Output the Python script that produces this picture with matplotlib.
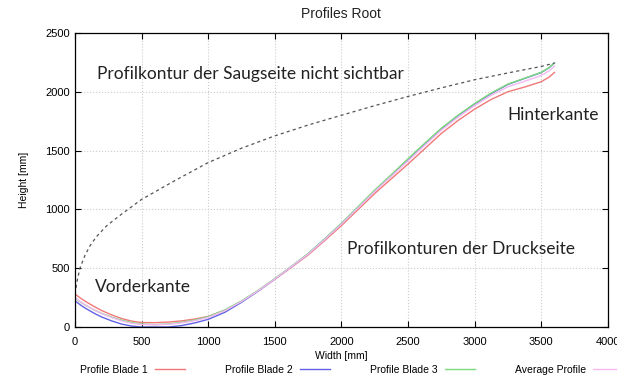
import matplotlib
matplotlib.use('Agg')
import matplotlib.pyplot as plt

# pressure side (visible) contour, three blades + average
x_press = [0, 50, 100, 150, 200, 275, 350, 425, 500, 600, 700, 800, 900, 1000,
           1125, 1250, 1375, 1500, 1625, 1750, 1875, 2000, 2125, 2250, 2375,
           2500, 2625, 2750, 2875, 3000, 3125, 3250, 3375, 3500, 3560, 3600]
blade_1 = [280, 238, 203, 170, 140, 103, 72, 50, 38, 37, 42, 52, 68, 90,
           143, 218, 308, 405, 508, 612, 735, 862, 998, 1135, 1260,
           1385, 1515, 1645, 1755, 1852, 1935, 2000, 2040, 2085, 2125, 2164]
blade_2 = [222, 180, 145, 113, 85, 52, 25, 8, 0, 0, 0, 12, 35, 65,
           125, 210, 305, 408, 514, 622, 748, 878, 1017, 1158, 1290,
           1422, 1555, 1683, 1795, 1895, 1985, 2062, 2113, 2163, 2205, 2245]
blade_3 = [245, 205, 172, 142, 116, 84, 58, 38, 25, 20, 26, 40, 60, 88,
           145, 222, 312, 412, 516, 624, 750, 882, 1022, 1164, 1296,
           1430, 1562, 1690, 1800, 1900, 1990, 2065, 2115, 2165, 2205, 2245]
average = [249, 208, 173, 142, 114, 80, 52, 32, 21, 19, 23, 35, 54, 81,
           138, 217, 308, 408, 513, 619, 744, 874, 1012, 1152, 1282,
           1412, 1544, 1673, 1783, 1882, 1970, 2042, 2089, 2138, 2178, 2218]

# suction side, only sketched (not measured)
x_suction = [0, 12, 37, 75, 112, 162, 237, 350, 500, 750, 1000, 1250, 1500,
             1750, 2000, 2250, 2500, 2750, 3000, 3250, 3500, 3600]
y_suction = [280, 372, 500, 610, 690, 770, 860, 960, 1085, 1245, 1398, 1520,
             1625, 1717, 1800, 1882, 1960, 2033, 2102, 2160, 2215, 2244]

series = [
    ('Profile Blade 1', blade_1, '#f07878'),
    ('Profile Blade 2', blade_2, '#6262e4'),
    ('Profile Blade 3', blade_3, '#7ddc7d'),
    ('Average Profile', average, '#f2b8f2'),
]

plt.rcParams['font.family'] = ['Liberation Sans', 'DejaVu Sans']

fig = plt.figure(figsize=(6.17, 3.77), dpi=100)
ax = fig.add_axes([0.1216, 0.1326, 0.8634, 0.78])

for label, ys, color in series:
    ax.plot(x_press, ys, color=color, linewidth=1.0, label=label)
ax.plot(x_suction, y_suction, color='#555555', linewidth=0.9,
        linestyle=(0, (2.5, 2.5)))

ax.set_xlim(0, 4000)
ax.set_ylim(0, 2500)
ax.set_xticks(range(0, 4001, 500))
ax.set_yticks(range(0, 2501, 500))
ax.tick_params(direction='in', top=True, right=True, length=4, labelsize=8)
ax.tick_params(axis='x', pad=7)
ax.grid(True, color='#cccccc', linestyle=':', linewidth=0.8)
for s in ax.spines.values():
    s.set_linewidth(0.9)

ax.set_xlabel('Width [mm]', fontsize=7.5, labelpad=3)
ax.set_ylabel('Height [mm]', fontsize=7.5, labelpad=12)
ax.set_title('Profiles Root', fontsize=10, pad=11, color='#222222')

note = dict(family=['Lato', 'DejaVu Sans'], fontsize=12.5, color='#222222')
ax.text(165, 2150, 'Profilkontur der Saugseite nicht sichtbar', va='center', **note)
ax.text(150, 340, 'Vorderkante', va='center', **note)
ax.text(2040, 660, 'Profilkonturen der Druckseite', va='center', **note)
ax.text(3250, 1800, 'Hinterkante', va='center', **note)

fig.legend(loc='lower left', bbox_to_anchor=(76 / 617, -0.005), ncol=4,
           frameon=False, markerfirst=False, fontsize=7.5, borderaxespad=0,
           handlelength=2.9, handletextpad=0.7, columnspacing=3.8)

fig.savefig('out.png', dpi=100)
